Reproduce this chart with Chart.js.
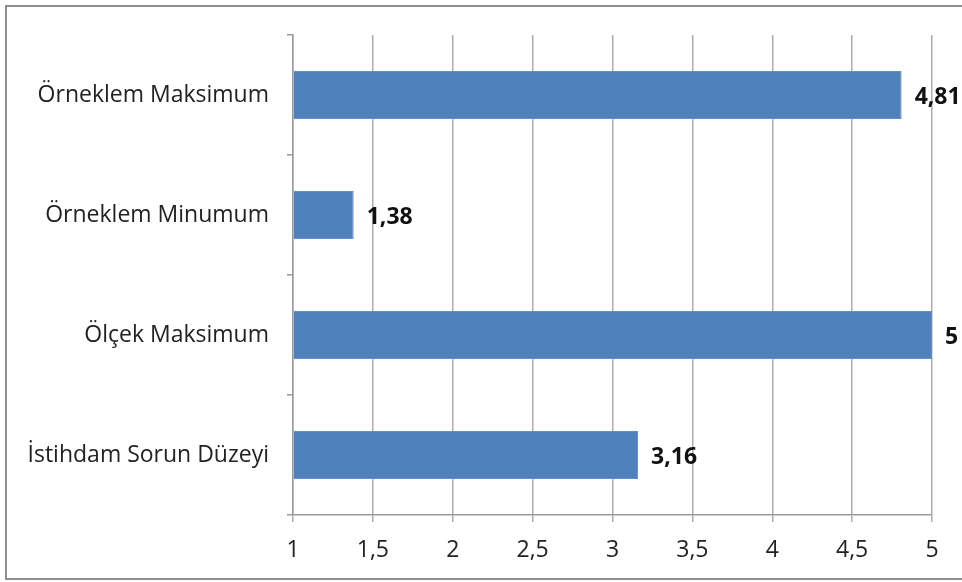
<!DOCTYPE html>
<html>
<head>
<meta charset="utf-8">
<script src="https://cdn.jsdelivr.net/npm/chart.js@4/dist/chart.umd.min.js"></script>
<style>
  html, body { margin: 0; padding: 0; background: #ffffff; }
  #wrap { width: 962px; height: 582px; position: relative; }
</style>
</head>
<body>
<div id="wrap"><canvas id="c" width="962" height="582"></canvas></div>
<script>
// Category labels, top to bottom
const categories = ['Örneklem Maksimum', 'Örneklem Minumum', 'Ölçek Maksimum', 'İstihdam Sorun Düzeyi'];
// Mean scores on the 1–5 scale
const values = [4.81, 1.38, 5, 3.16];
// Axis range and step
const axisMin = 1;
const axisMax = 5;
const axisStep = 0.5;

const fmt = v => String(v).replace('.', ',');
const FONT = '"Open Sans", Lato, sans-serif';

// Frame around the whole figure
const framePlugin = {
  id: 'frame',
  afterDraw(chart) {
    const ctx = chart.ctx;
    ctx.save();
    ctx.strokeStyle = '#8e8e8e';
    ctx.lineWidth = 2;
    ctx.strokeRect(6, 6, 962, 573);
    ctx.restore();
  }
};

// Bold value labels placed to the right of each bar
const valueLabels = {
  id: 'valueLabels',
  afterDatasetsDraw(chart) {
    const ctx = chart.ctx;
    const meta = chart.getDatasetMeta(0);
    ctx.save();
    ctx.font = 'bold 23px ' + FONT;
    ctx.fillStyle = '#111111';
    ctx.textAlign = 'left';
    ctx.textBaseline = 'middle';
    meta.data.forEach((bar, i) => {
      ctx.fillText(fmt(values[i]), bar.x + 13, bar.y + 2);
    });
    ctx.restore();
  }
};

new Chart(document.getElementById('c'), {
  type: 'bar',
  data: {
    labels: categories,
    datasets: [{
      data: values,
      base: axisMin,
      backgroundColor: '#4f81bd',
      borderColor: '#5f90ca',
      borderWidth: 1,
      categoryPercentage: 0.8,
      barPercentage: 0.5
    }]
  },
  options: {
    indexAxis: 'y',
    responsive: false,
    animation: false,
    devicePixelRatio: 1,
    layout: { padding: { top: 35, right: 30, left: 0, bottom: 0 } },
    plugins: {
      legend: { display: false },
      tooltip: { enabled: false }
    },
    scales: {
      x: {
        min: axisMin,
        max: axisMax,
        afterFit(s) { s.height = 67; },
        ticks: {
          stepSize: axisStep,
          color: '#222222',
          font: { family: FONT, size: 23 },
          padding: 15,
          callback: v => fmt(v)
        },
        grid: {
          color: '#acacac',
          lineWidth: 1.5,
          tickLength: 7,
          drawOnChartArea: true
        },
        border: { color: '#9a9a9a', width: 1.5 }
      },
      y: {
        afterFit(s) { s.width = 293; },
        ticks: {
          color: '#222222',
          font: { family: FONT, size: 23 },
          padding: 18
        },
        grid: {
          offset: true,
          drawOnChartArea: false,
          color: '#9a9a9a',
          lineWidth: 1.5,
          tickLength: 6
        },
        border: { color: '#9a9a9a', width: 1.5 }
      }
    }
  },
  plugins: [valueLabels, framePlugin]
});
</script>
</body>
</html>
